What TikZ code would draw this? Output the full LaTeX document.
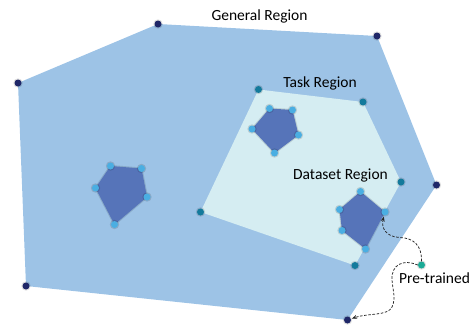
\documentclass[tikz,border=0pt]{standalone}
\usepackage{fontspec}
\setmainfont{Carlito}
\usetikzlibrary{arrows.meta}
\definecolor{generalfill}{HTML}{9DC3E6}
\definecolor{taskfill}{HTML}{D5EDF2}
\definecolor{cellfill}{HTML}{5674B9}
\definecolor{navydot}{HTML}{1F2768}
\definecolor{tealdot}{HTML}{137A9C}
\definecolor{skydot}{HTML}{4AAEE2}
\definecolor{greendot}{HTML}{1BAA96}
\begin{document}
\begin{tikzpicture}[x=1pt,y=-1pt,
  vtx/.style={circle,inner sep=0pt,minimum size=7pt,
    preaction={draw=black,line width=2.2pt,draw opacity=0.13}},
  navy/.style={vtx,fill=navydot},
  teal/.style={vtx,fill=tealdot},
  sky/.style={vtx,fill=skydot},
  pretrained/.style={vtx,fill=greendot},
  cell/.style={fill=cellfill,preaction={draw=black,line width=2pt,draw opacity=0.12}},
  lbl/.style={font=\fontsize{15.5}{17}\selectfont,text=black,inner sep=0pt},
  link/.style={dashed,dash pattern=on 2.6pt off 1.6pt,line width=0.75pt,black!85,
    -{Stealth[length=5pt,width=4pt]},shorten >=1pt}]
\useasboundingbox (0,0) rectangle (473,324);

% vertices of the general region
\coordinate (G1) at (158,24);
\coordinate (G2) at (377,36);
\coordinate (G3) at (436.5,185);
\coordinate (G4) at (347.5,320);
\coordinate (G5) at (26,286);
\coordinate (G6) at (18,83);
% vertices of the task region
\coordinate (T1) at (258.5,89.5);
\coordinate (T2) at (363,102);
\coordinate (T3) at (401,182);
\coordinate (T4) at (355,265.5);
\coordinate (T5) at (200.5,212);
% cell inside the task region
\coordinate (A1) at (269.5,108.5);
\coordinate (A2) at (292.5,110);
\coordinate (A3) at (298.5,135);
\coordinate (A4) at (274.5,153);
\coordinate (A5) at (252,129);
% cell on the left
\coordinate (B1) at (110.5,166);
\coordinate (B2) at (141.5,168.5);
\coordinate (B3) at (147,197);
\coordinate (B4) at (114.5,224.5);
\coordinate (B5) at (95.5,188);
% dataset cell
\coordinate (D1) at (360.5,191.5);
\coordinate (D2) at (385,212);
\coordinate (D3) at (365.5,249);
\coordinate (D4) at (342,230.5);
\coordinate (D5) at (339.5,209.5);

% regions
\fill[generalfill] (G1) -- (G2) -- (G3) -- (G4) -- (G5) -- (G6) -- cycle;
\fill[taskfill] (T1) -- (T2) -- (T3) -- (T4) -- (T5) -- cycle;
\path[cell] (A1) -- (A2) -- (A3) -- (A4) -- (A5) -- cycle;
\path[cell] (B1) -- (B2) -- (B3) -- (B4) -- (B5) -- cycle;
\path[cell] (D1) -- (D2) -- (D3) -- (D4) -- (D5) -- cycle;

% vertex markers
\foreach \v in {G1,G2,G3,G4,G5,G6} \node[navy] (n\v) at (\v) {};
\foreach \v in {T1,T2,T3,T4,T5} \node[teal] (n\v) at (\v) {};
\foreach \v in {A1,A2,A3,A4,A5,B1,B2,B3,B4,B5,D1,D2,D3,D4,D5} \node[sky] (n\v) at (\v) {};
\node[pretrained] (pt) at (421.5,265) {};

% labels
\node[lbl] (lgeneral) at (259.5,16) {General Region};
\node[lbl] (ltask) at (320,83.5) {Task Region};
\node[lbl] (ldataset) at (340.5,175.5) {Dataset Region};
\node[lbl] (lpre) at (434.5,278.5) {Pre-trained};

% fine-tuning paths from the pre-trained point
\draw[link] (pt.north) .. controls (422,246) and (414,238) .. (400,237.5)
  .. controls (386,237) and (381,228) .. (nD2);
\draw[link] (pt.west) .. controls (404,259) and (391,264) .. (392,280)
  .. controls (393,292) and (396,298) .. (392,307)
  .. controls (388,316) and (368,313) .. (nG4);
\end{tikzpicture}
\end{document}
